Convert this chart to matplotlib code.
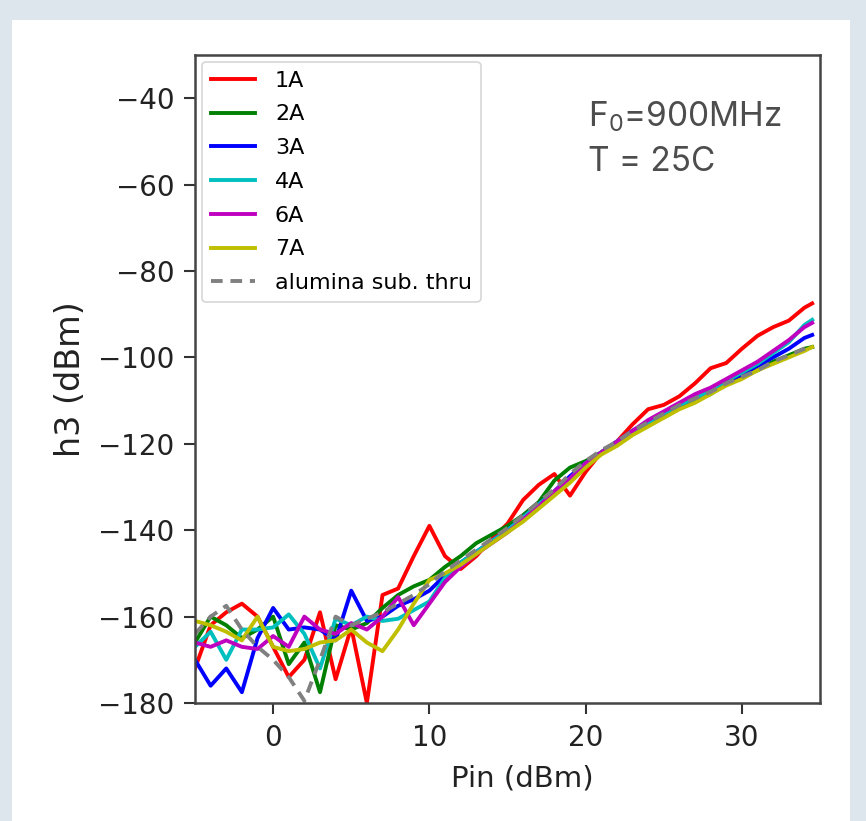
import matplotlib
matplotlib.use("Agg")
import matplotlib.pyplot as plt
from matplotlib.patches import Rectangle

pin = [-5, -4, -3, -2, -1, 0, 1, 2, 3, 4, 5, 6, 7, 8, 9, 10, 11, 12, 13, 14,
       15, 16, 17, 18, 19, 20, 21, 22, 23, 24, 25, 26, 27, 28, 29, 30, 31, 32, 33, 34, 34.5]

h3_1A = [-172, -162, -159, -157, -160, -167, -174, -170, -159, -174.5, -162.5, -180, -155, -153.5, -146, -139,
         -146, -149, -146, -142, -138.5, -133, -129.5, -127, -132, -126.5, -122, -119.5, -115.5, -112,
         -111, -109, -106, -102.5, -101.3, -98, -95, -93, -91.5, -88.5, -87.5]
h3_2A = [-166, -160, -162, -165, -163, -160, -171, -166, -177.5, -162, -163, -161.5, -158, -155, -153, -151.5,
         -148.5, -146, -143, -141, -139, -136.5, -133.5, -128.5, -125.5, -124, -122, -119.5, -117.5, -115.5,
         -113.5, -111.5, -110, -108.5, -106, -104.5, -103, -101, -99.5, -98, -97.6]
h3_3A = [-170, -176, -172, -177.5, -165, -158, -163, -162.5, -163, -165.5, -154, -161, -160, -157.5, -156, -154,
         -150.5, -147.5, -145, -142.5, -140, -137, -134, -131, -127.5, -124.5, -122, -119.5, -117, -115,
         -113, -111, -109.5, -107.5, -105.5, -104, -102, -100, -98, -95.5, -94.8]
h3_4A = [-167, -163.5, -170, -163, -163, -162.5, -159.5, -164, -172, -160.5, -162, -160, -161, -160.5, -158.5, -156.5,
         -151, -147.5, -145, -142.5, -140, -137, -134, -131, -128, -124.5, -122, -119.5, -117, -115,
         -113, -111, -109.5, -107.5, -105.5, -103.5, -101.5, -99, -96.5, -92.5, -91.3]
h3_6A = [-166, -167, -165.5, -167, -167.5, -164.5, -167, -160, -163, -164, -161.5, -163, -160, -155.5, -162, -157,
         -152, -148.5, -145.5, -143, -140.5, -137.5, -134.5, -131, -128, -124.5, -122, -119.5, -117, -114.5,
         -112.5, -110.5, -108.5, -107, -105, -103, -101, -98.5, -96, -93, -92]
h3_7A = [-161, -162, -163.5, -165.5, -160, -167, -168, -167.5, -166, -165.5, -163, -166, -168, -163, -157, -151.5,
         -150, -148, -145.5, -143, -140.5, -138, -135, -132, -129, -125.5, -122.5, -120.5, -118, -116,
         -114, -112, -110.5, -108.5, -106.5, -105, -103, -101.5, -100, -98.5, -97.6]
h3_thru = [-164, -160, -157.5, -163, -167, -170, -174, -179.5, -170, -160, -162, -160.5, -159, -157, -155, -152.5,
           -149.5, -147, -144.5, -142, -139.5, -136.5, -133.5, -130.5, -127, -124, -121.5, -119.5, -117, -115,
           -113, -111, -109.5, -108, -106, -104.5, -103, -101, -99.5, -98, -97.5]

labels = ["1A", "2A", "3A", "4A", "6A", "7A", "alumina sub. thru"]
colors = ["r", "g", "b", "c", "m", "y", "gray"]
x_ticks = [0, 10, 20, 30]
y_ticks = [-40, -60, -80, -100, -120, -140, -160, -180]

plt.rcParams["mathtext.fontset"] = "custom"
plt.rcParams["mathtext.rm"] = "Inter"

W, H = 866, 821
fig = plt.figure(figsize=(W / 100, H / 100), dpi=100)
fig.patch.set_facecolor("#dde6ec")
bg = Rectangle((12 / W, 0), (850 - 12) / W, (H - 20) / H,
               transform=fig.transFigure, facecolor="white",
               edgecolor="none", zorder=-10)
fig.add_artist(bg)

ax = fig.add_axes([195 / W, 1 - 703 / H, (820 - 195) / W, (703 - 55) / H])
ax.set_zorder(1)
series = [h3_1A, h3_2A, h3_3A, h3_4A, h3_6A, h3_7A]
for ys, lab, col in zip(series, labels[:6], colors[:6]):
    ax.plot(pin, ys, color=col, lw=2.8, label=lab)
ax.plot(pin, h3_thru, color=colors[6], lw=2.8, ls=(0, (3.0, 2.0)), label=labels[6])

ax.set_xlim(-5, 35)
ax.set_ylim(-180, -30)
ax.set_xticks(x_ticks)
ax.set_yticks(y_ticks)
ax.tick_params(labelsize=20, length=8, width=1.5, pad=7, colors="#333333",
               labelcolor="#222222")
for s in ax.spines.values():
    s.set_linewidth(1.8)
    s.set_color("#444444")
ax.set_xlabel("Pin (dBm)", fontsize=21, color="#222222")
ax.xaxis.set_label_coords(0.523, -0.095)
ax.set_ylabel("h3 (dBm)", fontsize=24, color="#222222")
ax.yaxis.set_label_coords(-0.172, 0.5)

leg = ax.legend(loc="upper left", fontsize=16, frameon=True, handlelength=2.0,
                borderaxespad=0.3, labelspacing=0.62, handletextpad=0.9)
leg.get_frame().set_edgecolor("#cccccc")
leg.get_frame().set_linewidth(1.2)

fig.text(588 / W, 1 - 126 / H, r"F$_\mathrm{0}$=900MHz",
         fontsize=24, family="Inter", color="#4d4d4d", zorder=5)
fig.text(588 / W, 1 - 171 / H, "T = 25C",
         fontsize=24, family="Inter", color="#4d4d4d", zorder=5)

fig.savefig("out.png", dpi=100, facecolor=fig.get_facecolor())
